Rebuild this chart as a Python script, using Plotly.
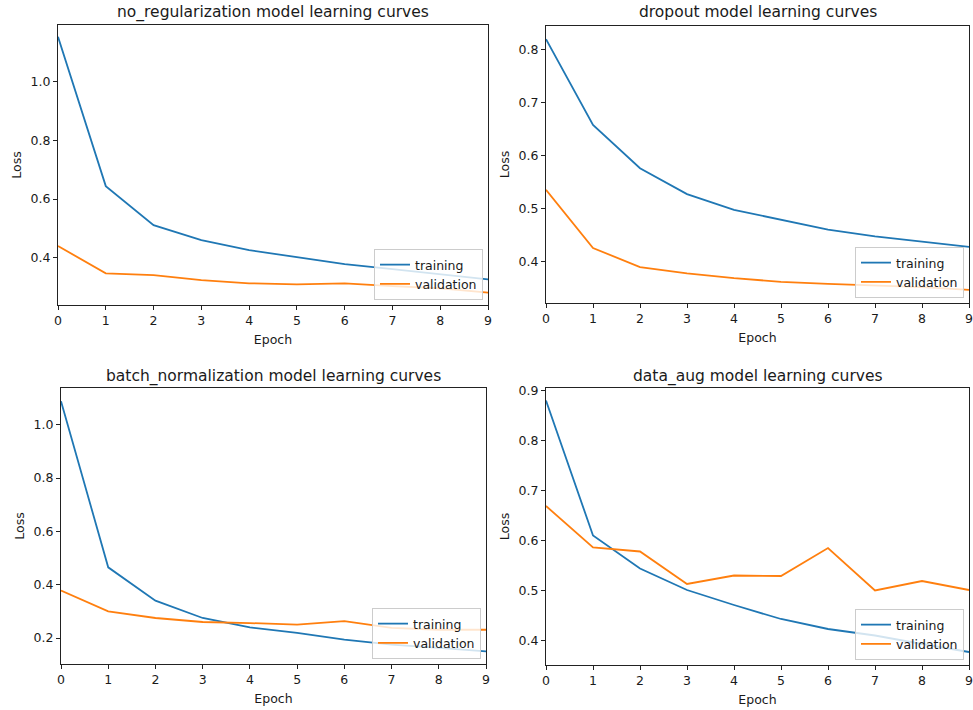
import plotly.graph_objects as go

epochs = [0, 1, 2, 3, 4, 5, 6, 7, 8, 9]

models = ["no_regularization", "dropout", "batch_normalization", "data_aug"]

no_reg_train = [1.153, 0.644, 0.511, 0.460, 0.426, 0.401, 0.378, 0.361, 0.343, 0.326]
no_reg_val = [0.440, 0.347, 0.341, 0.324, 0.313, 0.309, 0.313, 0.303, 0.296, 0.281]

dropout_train = [0.820, 0.658, 0.576, 0.527, 0.497, 0.478, 0.460, 0.447, 0.437, 0.427]
dropout_val = [0.535, 0.425, 0.389, 0.377, 0.368, 0.361, 0.357, 0.354, 0.351, 0.346]

bn_train = [1.088, 0.465, 0.340, 0.275, 0.240, 0.219, 0.194, 0.175, 0.163, 0.150]
bn_val = [0.378, 0.300, 0.275, 0.260, 0.256, 0.250, 0.263, 0.238, 0.231, 0.231]

aug_train = [0.880, 0.610, 0.544, 0.501, 0.471, 0.443, 0.423, 0.410, 0.393, 0.377]
aug_val = [0.669, 0.586, 0.578, 0.513, 0.530, 0.529, 0.585, 0.500, 0.519, 0.501]

train_series = [no_reg_train, dropout_train, bn_train, aug_train]
val_series = [no_reg_val, dropout_val, bn_val, aug_val]

W, H = 973, 710
# plot-area boxes in window pixels (left, right, top, bottom)
boxes = [(58, 488, 25, 305), (546, 969, 26, 303), (61, 486, 388, 664), (546, 969, 388, 665)]
title_centers = [12.5, 12.5, 376, 376]
yranges = [[0.239, 1.193], [0.321, 0.845], [0.1025, 1.1375], [0.351, 0.905]]
ydticks = [0.2, 0.1, 0.2, 0.1]

BLUE = "#1f77b4"
ORANGE = "#ff7f0e"
FONT = "DejaVu Sans"
TXT = "#1a1a1a"
FS = 12.5

fig = go.Figure()
layout = dict(
    width=W, height=H,
    margin=dict(l=0, r=0, t=0, b=0, autoexpand=False),
    paper_bgcolor="white", plot_bgcolor="white",
    font=dict(family=FONT, size=FS, color=TXT),
    annotations=[],
)

for i in range(4):
    n = i + 1
    sfx = "" if n == 1 else str(n)
    xa, ya = "x" + sfx, "y" + sfx
    lg = "legend" + sfx
    l, r, t, b = boxes[i]
    xd = [l / W, r / W]
    yd = [(H - b) / H, (H - t) / H]
    fig.add_trace(go.Scatter(x=epochs, y=train_series[i], mode="lines", name="training",
                             line=dict(color=BLUE, width=1.8), xaxis=xa, yaxis=ya, legend=lg))
    fig.add_trace(go.Scatter(x=epochs, y=val_series[i], mode="lines", name="validation",
                             line=dict(color=ORANGE, width=1.8), xaxis=xa, yaxis=ya, legend=lg))
    axcommon = dict(showgrid=False, zeroline=False, showline=True, mirror=True, automargin=False,
                    linecolor="#222222", linewidth=1, ticks="outside", ticklen=4,
                    ticklabeloverflow="allow",
                    tickcolor="#222222", tickfont=dict(size=FS, family=FONT, color=TXT))
    layout["xaxis" + sfx] = dict(domain=xd, range=[0, 9], dtick=1, tick0=0, anchor=ya,
                                 title=dict(text="Epoch", standoff=8,
                                            font=dict(size=FS, family=FONT, color=TXT)),
                                 **axcommon)
    layout["yaxis" + sfx] = dict(domain=yd, range=yranges[i], dtick=ydticks[i], tick0=0,
                                 tickformat=".1f", anchor=xa,
                                 title=dict(text="Loss", standoff=6,
                                            font=dict(size=FS, family=FONT, color=TXT)),
                                 **axcommon)
    layout[lg] = dict(x=(r - 5) / W, y=(H - b + 5) / H, xanchor="right", yanchor="bottom",
                      bgcolor="rgba(255,255,255,0.8)", bordercolor="#cccccc", borderwidth=1,
                      font=dict(size=FS, family=FONT, color=TXT),
                      tracegroupgap=0, itemwidth=30)
    layout["annotations"].append(dict(text=models[i] + " model learning curves",
                                      x=(l + r) / 2 / W, y=(H - title_centers[i]) / H,
                                      xref="paper", yref="paper",
                                      xanchor="center", yanchor="middle", showarrow=False,
                                      font=dict(size=15.5, family=FONT, color=TXT)))

fig.update_layout(**layout)
# remove the page's default 8px body margin so the figure fills the window exactly
fig.write_html("out.html", config={"displayModeBar": False},
               post_script="document.body.style.margin='0';document.body.style.overflow='hidden';")
